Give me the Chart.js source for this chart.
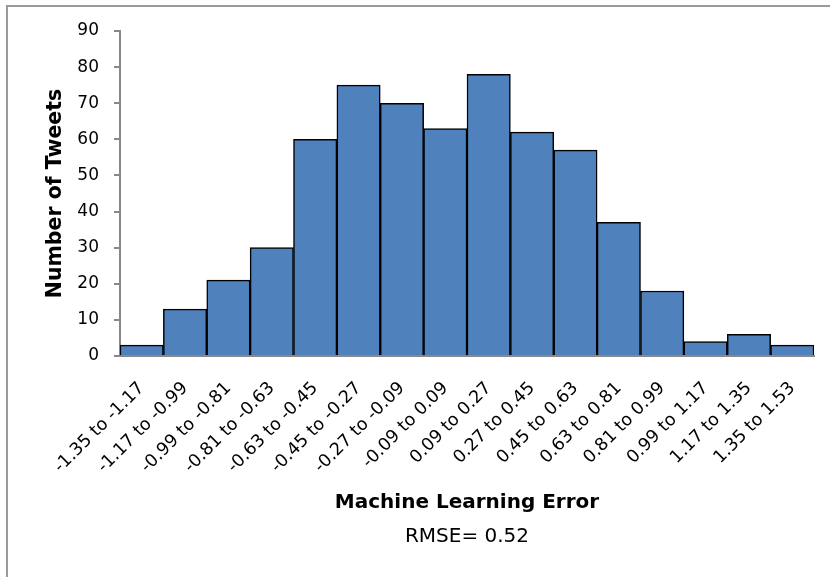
<!DOCTYPE html>
<html>
<head>
<meta charset="utf-8">
<script src="https://cdn.jsdelivr.net/npm/chart.js@4/dist/chart.umd.min.js"></script>
<style>
  html, body { margin: 0; padding: 0; background: #fff; overflow: hidden; width: 830px; height: 577px; }
  #wrap { position: absolute; left: 0; top: 0; width: 830px; height: 577px; overflow: hidden; }
  #c { position: absolute; left: 0; top: 0; display: block; width: 830px; height: 577px; }
  #frame { position: absolute; left: 6px; top: 5px; width: 840px; height: 600px;
           border-left: 2px solid #9a9a9a; border-top: 2px solid #9a9a9a; pointer-events: none; }
</style>
</head>
<body>
<div id="wrap"><canvas id="c" width="830" height="577"></canvas><div id="frame"></div></div>
<script>
const categories = ["-1.35 to -1.17", "-1.17 to -0.99", "-0.99 to -0.81", "-0.81 to -0.63",
  "-0.63 to -0.45", "-0.45 to -0.27", "-0.27 to -0.09", "-0.09 to 0.09", "0.09 to 0.27",
  "0.27 to 0.45", "0.45 to 0.63", "0.63 to 0.81", "0.81 to 0.99", "0.99 to 1.17",
  "1.17 to 1.35", "1.35 to 1.53"];
const tweetCounts = [3, 13, 21, 30, 60, 75, 70, 63, 78, 62, 57, 37, 18, 4, 6, 3];
const yTicks = [0, 10, 20, 30, 40, 50, 60, 70, 80, 90];
const xTitle = "Machine Learning Error";
const xSubtitle = "RMSE= 0.52";
const yTitle = "Number of Tweets";

const FONT = "'DejaVu Sans', sans-serif";

const subtitlePlugin = {
  id: 'rmse',
  afterDraw(chart) {
    const ctx = chart.ctx;
    const a = chart.chartArea;
    ctx.save();
    ctx.fillStyle = '#000';
    ctx.font = "20px " + FONT;
    ctx.textAlign = 'center';
    ctx.textBaseline = 'middle';
    ctx.fillText(xSubtitle, (a.left + a.right) / 2, 537);
    ctx.restore();
  }
};

new Chart(document.getElementById('c'), {
  type: 'bar',
  data: {
    labels: categories,
    datasets: [{
      data: tweetCounts,
      backgroundColor: '#4F81BD',
      borderColor: '#000000',
      borderWidth: 1.5,
      barPercentage: 1.0,
      categoryPercentage: 1.0
    }]
  },
  options: {
    responsive: false,
    devicePixelRatio: 1,
    animation: false,
    events: [],
    layout: { padding: { left: 0, top: 31, right: 16, bottom: 0 } },
    plugins: { legend: { display: false }, tooltip: { enabled: false } },
    scales: {
      x: {
        grid: { display: false },
        border: { display: true, color: '#888888', width: 2 },
        ticks: {
          color: '#000',
          font: { family: FONT, size: 17.5 },
          minRotation: 45, maxRotation: 45,
          autoSkip: false,
          padding: 14
        },
        title: {
          display: true, text: xTitle, color: '#000',
          font: { family: FONT, size: 20, weight: 'bold' },
          padding: { top: 0, bottom: 62 }
        },
        afterFit(s) { s.height = 221; }
      },
      y: {
        min: 0, max: 90,
        afterBuildTicks(s) { s.ticks = yTicks.map(v => ({ value: v })); },
        grid: { display: true, drawOnChartArea: false, tickLength: 6, color: '#888888', lineWidth: 2 },
        border: { display: true, color: '#888888', width: 2 },
        ticks: {
          color: '#000',
          font: { family: FONT, size: 17 },
          padding: 15
        },
        title: {
          display: true, text: yTitle, color: '#000',
          font: { family: FONT, size: 20.5, weight: 'bold' },
          padding: { top: 43, bottom: 0 }
        },
        afterFit(s) { s.width = 120; }
      }
    }
  },
  plugins: [subtitlePlugin]
});
</script>
</body>
</html>
